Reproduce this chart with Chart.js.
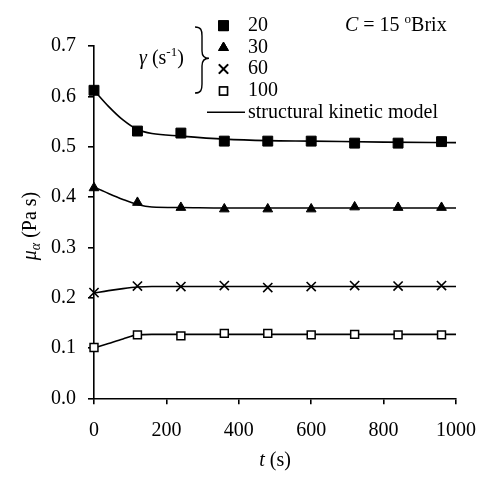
<!DOCTYPE html>
<html>
<head>
<meta charset="utf-8">
<script src="https://cdn.jsdelivr.net/npm/chart.js@4/dist/chart.umd.min.js"></script>
<style>
  body { margin: 0; background: #fff; }
  #wrap { width: 498px; height: 492px; }
</style>
</head>
<body>
<div id="wrap"><canvas id="muChart"></canvas></div>
<script>
// measured points (t in s, viscosity in Pa s)
const times = [0, 120, 240, 360, 480, 600, 720, 840, 960];
const mu20 = [0.612, 0.531, 0.527, 0.511, 0.511, 0.511, 0.507, 0.507, 0.510];
const mu30 = [0.418, 0.389, 0.379, 0.376, 0.376, 0.376, 0.380, 0.379, 0.379];
const mu60 = [0.210, 0.223, 0.222, 0.224, 0.220, 0.222, 0.224, 0.223, 0.224];
const mu100 = [0.101, 0.126, 0.124, 0.129, 0.129, 0.126, 0.127, 0.126, 0.126];

// structural kinetic model curves
const modelT = [0, 40, 80, 120, 160, 240, 360, 480, 600, 800, 1000];
const model20 = [0.612, 0.580, 0.553, 0.534, 0.526, 0.521, 0.515, 0.512, 0.511, 0.509, 0.508];
const model30 = [0.420, 0.407, 0.395, 0.385, 0.380, 0.379, 0.378, 0.378, 0.378, 0.378, 0.378];
const model60 = [0.209, 0.214, 0.218, 0.221, 0.222, 0.222, 0.222, 0.222, 0.222, 0.222, 0.222];
const model100 = [0.100, 0.109, 0.118, 0.126, 0.127, 0.127, 0.127, 0.127, 0.127, 0.127, 0.127];

const shearRates = ['20', '30', '60', '100'];
const xTicks = [0, 200, 400, 600, 800, 1000];
const yTicks = [0, 0.1, 0.2, 0.3, 0.4, 0.5, 0.6, 0.7];

const FONT = "'Liberation Serif', 'Times New Roman', serif";

const markers = [
  { style: 'rect', radius: 7, fill: '#000', border: 1 },
  { style: 'triangle', radius: 5.6, fill: '#000', border: 1 },
  { style: 'crossRot', radius: 6.5, fill: '#000', border: 1.6 },
  { style: 'rect', radius: 5.6, fill: '#fff', border: 1.5 }
];

function pts(xs, ys) {
  return xs.map((x, i) => ({ x: x, y: ys[i] }));
}

function pointSet(label, ys, m) {
  return {
    type: 'scatter',
    label: label,
    data: pts(times, ys),
    showLine: false,
    pointStyle: m.style,
    pointRadius: m.radius,
    pointBackgroundColor: m.fill,
    pointBorderColor: '#000',
    pointBorderWidth: m.border,
    clip: false,
    order: 0
  };
}

function modelSet(ys) {
  return {
    type: 'line',
    label: 'structural kinetic model',
    data: pts(modelT, ys),
    borderColor: '#000',
    borderWidth: 1.6,
    pointRadius: 0,
    cubicInterpolationMode: 'monotone',
    fill: false,
    clip: false,
    order: 1
  };
}

// draws a run of [text, style] pieces starting at x
function drawRuns(ctx, runs, x, y) {
  runs.forEach(r => {
    ctx.font = r.font;
    ctx.fillText(r.text, x, y + (r.dy || 0));
    x += ctx.measureText(r.text).width;
  });
  return x;
}

function runsWidth(ctx, runs) {
  let w = 0;
  runs.forEach(r => { ctx.font = r.font; w += ctx.measureText(r.text).width; });
  return w;
}

const annotations = {
  id: 'annotations',
  afterDraw(chart) {
    const ctx = chart.ctx;
    ctx.save();
    ctx.fillStyle = '#000';
    ctx.strokeStyle = '#000';
    ctx.textBaseline = 'middle';
    ctx.textAlign = 'left';

    // legend markers and labels
    const legendY = [25.7, 47.7, 69, 91];
    markers.forEach((m, i) => {
      ctx.lineWidth = m.border;
      ctx.fillStyle = m.fill;
      Chart.helpers.drawPoint(ctx, { pointStyle: m.style, radius: m.radius, borderWidth: m.border }, 223.5, legendY[i]);
      ctx.fill();
      ctx.stroke();
      ctx.fillStyle = '#000';
      ctx.font = '20px ' + FONT;
      ctx.fillText(shearRates[i], 248, legendY[i]);
    });
    ctx.lineWidth = 1.6;
    ctx.beginPath();
    ctx.moveTo(207, 112.3);
    ctx.lineTo(245, 112.3);
    ctx.stroke();
    ctx.font = '20px ' + FONT;
    ctx.fillText('structural kinetic model', 248, 112.5);

    // curly brace
    ctx.lineWidth = 1.4;
    ctx.beginPath();
    ctx.moveTo(195, 27);
    ctx.bezierCurveTo(201, 27, 202, 30, 202, 36);
    ctx.lineTo(202, 51);
    ctx.bezierCurveTo(202, 56, 204, 58.3, 209, 58.3);
    ctx.bezierCurveTo(204, 58.3, 202, 61, 202, 66);
    ctx.lineTo(202, 84);
    ctx.bezierCurveTo(202, 90, 201, 93, 195, 93);
    ctx.stroke();

    // gamma (s-1)
    drawRuns(ctx, [
      { text: 'γ', font: 'italic 20px ' + FONT },
      { text: ' (s', font: '20px ' + FONT },
      { text: '-1', font: '13px ' + FONT, dy: -6 },
      { text: ')', font: '20px ' + FONT }
    ], 139, 58.5);

    // C = 15 oBrix
    drawRuns(ctx, [
      { text: 'C', font: 'italic 20px ' + FONT },
      { text: ' = 15 ', font: '20px ' + FONT },
      { text: 'o', font: '13px ' + FONT, dy: -6 },
      { text: 'Brix', font: '20px ' + FONT }
    ], 345, 25.5);

    // x axis title
    const xRuns = [
      { text: 't', font: 'italic 20px ' + FONT },
      { text: ' (s)', font: '20px ' + FONT }
    ];
    drawRuns(ctx, xRuns, 275 - runsWidth(ctx, xRuns) / 2, 461);

    // y axis title
    const yRuns = [
      { text: 'μ', font: 'italic 20px ' + FONT },
      { text: 'α', font: 'italic 14px ' + FONT, dy: 5 },
      { text: ' (Pa s)', font: '20px ' + FONT }
    ];
    ctx.translate(31, 226);
    ctx.rotate(-Math.PI / 2);
    drawRuns(ctx, yRuns, -runsWidth(ctx, yRuns) / 2, 0);
    ctx.restore();
  }
};

const datasets = [
  pointSet('20', mu20, markers[0]),
  pointSet('30', mu30, markers[1]),
  pointSet('60', mu60, markers[2]),
  pointSet('100', mu100, markers[3]),
  modelSet(model20),
  modelSet(model30),
  modelSet(model60),
  modelSet(model100)
];

new Chart(document.getElementById('muChart').getContext('2d'), {
  type: 'scatter',
  data: { datasets: datasets },
  options: {
    responsive: true,
    maintainAspectRatio: false,
    animation: false,
    layout: { padding: { top: 46, right: 42, left: 0, bottom: 0 } },
    plugins: {
      legend: { display: false },
      tooltip: { enabled: false }
    },
    scales: {
      x: {
        type: 'linear',
        min: xTicks[0],
        max: xTicks[xTicks.length - 1],
        afterBuildTicks: s => { s.ticks = xTicks.map(v => ({ value: v })); },
        afterFit: s => { s.height = 93.7; },
        border: { display: true, color: '#000', width: 1.6 },
        grid: { display: true, drawOnChartArea: false, drawTicks: true, tickLength: 6, color: '#000', lineWidth: 1.6 },
        ticks: {
          color: '#000',
          padding: 14,
          font: { family: FONT, size: 20 },
          maxRotation: 0,
          callback: v => String(v)
        }
      },
      y: {
        type: 'linear',
        min: yTicks[0],
        max: yTicks[yTicks.length - 1],
        afterBuildTicks: s => { s.ticks = yTicks.map(v => ({ value: v })); },
        afterFit: s => { s.width = 94; },
        border: { display: true, color: '#000', width: 1.6 },
        grid: { display: true, drawOnChartArea: false, drawTicks: true, tickLength: 6, color: '#000', lineWidth: 1.6 },
        ticks: {
          color: '#000',
          padding: 12,
          font: { family: FONT, size: 20 },
          callback: v => Number(v).toFixed(1)
        }
      }
    }
  },
  plugins: [annotations]
});
</script>
</body>
</html>
